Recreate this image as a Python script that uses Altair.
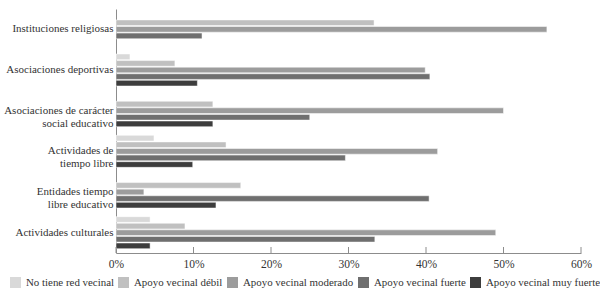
import altair as alt
import pandas as pd

categories = [
    "Instituciones religiosas",
    "Asociaciones deportivas",
    "Asociaciones de carácter|social educativo",
    "Actividades de|tiempo libre",
    "Entidades tiempo|libre educativo",
    "Actividades culturales",
]
series = [
    "No tiene red vecinal",
    "Apoyo vecinal débil",
    "Apoyo vecinal moderado",
    "Apoyo vecinal fuerte",
    "Apoyo vecinal muy fuerte",
]
colors = ["#d9d9d9", "#c0c0c0", "#9c9c9c", "#6f6f6f", "#3d3d3d"]

no_tiene = [None, 1.8, None, 4.9, None, 4.4]
debil = [33.3, 7.6, 12.5, 14.2, 16.1, 8.9]
moderado = [55.6, 39.9, 50.0, 41.5, 3.6, 49.0]
fuerte = [11.1, 40.5, 25.0, 29.6, 40.4, 33.4]
muy_fuerte = [None, 10.5, 12.5, 9.9, 12.9, 4.4]

tick_values = [0, 10, 20, 30, 40, 50, 60]

rows = []
for s, vals in zip(series, [no_tiene, debil, moderado, fuerte, muy_fuerte]):
    for c, v in zip(categories, vals):
        if v is not None:
            rows.append({"cat": c, "serie": s, "valor": v})
df = pd.DataFrame(rows)
ticks_df = pd.DataFrame({"t": tick_values})

FONT = "Liberation Serif"
W, H = 465, 244

x_scale = alt.Scale(domain=[0, 60], nice=False, zero=True)

bars = alt.Chart(df).mark_bar(stroke="#ffffff", strokeWidth=0.5).encode(
    x=alt.X(
        "valor:Q",
        scale=x_scale,
        axis=alt.Axis(
            values=tick_values,
            labelExpr="datum.value + '%'",
            ticks=False,
            grid=False,
            domainColor="#8c8c8c",
            labelFont=FONT,
            labelFontSize=11.5,
            labelColor="#333333",
            labelPadding=5,
            labelFlush=False,
            labelOverlap=False,
            title=None,
        ),
    ),
    y=alt.Y(
        "cat:N",
        sort=categories,
        scale=alt.Scale(paddingInner=0.19, paddingOuter=0.095),
        axis=alt.Axis(
            labelExpr="split(datum.label, '|')",
            ticks=False,
            grid=False,
            domainColor="#8c8c8c",
            labelFont=FONT,
            labelFontSize=11,
            labelColor="#333333",
            labelPadding=3,
            labelLimit=0,
            labelLineHeight=13,
            title=None,
        ),
    ),
    yOffset=alt.YOffset(
        "serie:N",
        sort=series,
        scale=alt.Scale(domain=series, paddingInner=0.14, paddingOuter=0.07),
    ),
    color=alt.Color(
        "serie:N",
        scale=alt.Scale(domain=series, range=colors),
        legend=alt.Legend(
            orient="none",
            legendX=-106,
            legendY=268,
            direction="horizontal",
            columns=5,
            title=None,
            symbolType="square",
            symbolSize=121,
            symbolStrokeWidth=0,
            labelFont=FONT,
            labelFontSize=10.9,
            labelColor="#333333",
            labelOffset=5,
            columnPadding=4,
            labelLimit=0,
        ),
    ),
)

tick_rules = alt.Chart(ticks_df).mark_rule(color="#8c8c8c", strokeWidth=1).encode(
    x=alt.X("t:Q", scale=x_scale),
    y=alt.value(H - 6),
    y2=alt.value(H),
)

chart = (
    alt.layer(bars, tick_rules)
    .properties(
        width=W,
        height=H,
        autosize=alt.AutoSizeParams(type="none"),
        padding={"left": 116, "top": 9, "right": 19, "bottom": 47},
        background="#ffffff",
    )
    .configure_view(stroke=None)
)

chart.save("out.html", embed_options={"renderer": "svg", "actions": False})
